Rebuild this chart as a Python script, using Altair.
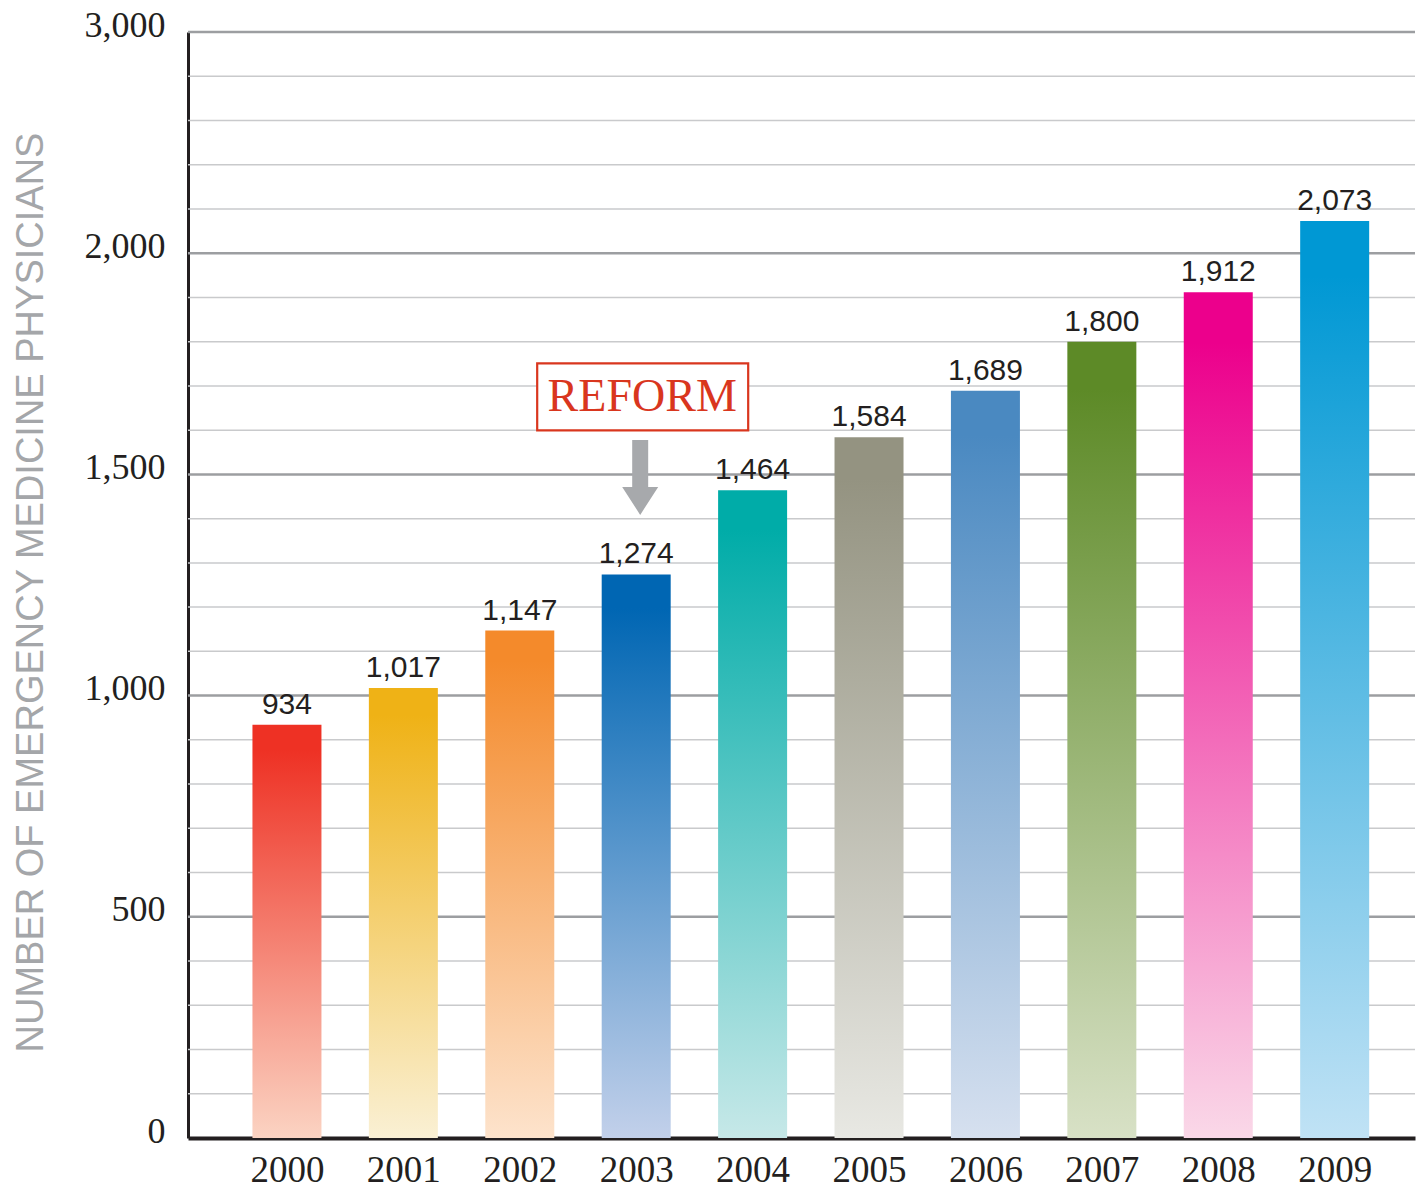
import altair as alt
import pandas as pd

years = [2000, 2001, 2002, 2003, 2004, 2005, 2006, 2007, 2008, 2009]
physicians = [934, 1017, 1147, 1274, 1464, 1584, 1689, 1800, 1912, 2073]
top_colors = ["#EE3124", "#EFB216", "#F48A2B", "#0066B3", "#00ACA8",
              "#949381", "#4A89C1", "#5D8A27", "#EC008C", "#0098D4"]
bottom_colors = ["#FBD3C2", "#FAF0D4", "#FDE3CC", "#C2D0EA", "#C6E8E8",
                 "#E8E8E3", "#D6E0EF", "#D8E1C6", "#FAD8E8", "#C0E2F5"]
major_ticks = [500, 1000, 1500, 2000, 2500]
minor_ticks = [v for v in range(100, 2500, 100) if v % 500 != 0]
y_tick_values = [0, 500, 1000, 1500, 2000, 2500]
reform_year = 2003
y_title = "NUMBER OF EMERGENCY MEDICINE PHYSICIANS"

W, H = 1227, 1106

df = pd.DataFrame({"year": years, "value": physicians,
                   "top": top_colors, "bottom": bottom_colors})
minor_df = pd.DataFrame({"value": minor_ticks})
major_df = pd.DataFrame({"value": major_ticks})
reform_df = df[df["year"] == reform_year][["year", "value"]]

xscale = alt.Scale(domain=[1999.15, 2009.69], nice=False, zero=False, padding=0)
yscale = alt.Scale(domain=[0, 2500], nice=False, zero=True, padding=0)

x_enc = alt.X("year:Q", scale=xscale, title=None,
              axis=alt.Axis(values=years, format="d", ticks=False, grid=False,
                            labelFont="Liberation Serif", labelFontSize=37,
                            labelColor="#231F20", labelPadding=14,
                            labelOverlap=False, labelFlush=False,
                            domainColor="#231F20", domainWidth=4))
y_enc = alt.Y("value:Q", scale=yscale, title=y_title,
              axis=alt.Axis(values=y_tick_values, ticks=False, grid=False,
                            labelExpr="datum.value == 2500 ? '3,000' : format(datum.value, ',')",
                            labelFont="Liberation Serif", labelFontSize=36,
                            labelColor="#231F20", labelPadding=23,
                            labelBaseline="middle", labelOffset=-7,
                            labelFlush=False, labelOverlap=False,
                            domainColor="#231F20", domainWidth=3,
                            titleFont="Liberation Sans", titleFontSize=38,
                            titleFontWeight="normal", titleColor="#A4A6A9",
                            titleAnchor="middle", titleBaseline="middle",
                            titleAngle=270, titleX=-157, titleY=560))

minor_rules = alt.Chart(minor_df).mark_rule(color="#C9CACC", strokeWidth=1.5).encode(
    y=y_enc, x=alt.value(0), x2=alt.value(W))
major_rules = alt.Chart(major_df).mark_rule(color="#9C9EA1", strokeWidth=2.5).encode(
    y=y_enc, x=alt.value(0), x2=alt.value(W))

layers = [minor_rules, major_rules]
for yr, top, bot in zip(years, top_colors, bottom_colors):
    grad = alt.Gradient(gradient="linear",
                        stops=[alt.GradientStop(color=top, offset=0),
                               alt.GradientStop(color=top, offset=0.06),
                               alt.GradientStop(color=bot, offset=1)],
                        x1=1, x2=1, y1=0, y2=1)
    layers.append(
        alt.Chart(df).transform_filter(alt.datum.year == yr)
        .mark_bar(color=grad, size=69)
        .encode(x=x_enc, y=y_enc)
    )

value_labels = alt.Chart(df).mark_text(
    baseline="alphabetic", align="center", dy=-11,
    font="Liberation Sans", fontSize=30, color="#231F20"
).encode(x=x_enc, y=y_enc, text=alt.Text("value:Q", format=","))

reform_box = alt.Chart(reform_df).mark_rect(
    fill="white", stroke="#D9361E", strokeWidth=2.2,
    xOffset=-99, x2Offset=112, yOffset=-211, y2Offset=-144
).encode(x=x_enc, x2="year:Q", y=y_enc, y2="value:Q")

reform_text = alt.Chart(reform_df).mark_text(
    text="REFORM", font="Liberation Serif", fontSize=46, color="#D9361E",
    align="center", baseline="middle", dx=6, dy=-177
).encode(x=x_enc, y=y_enc)

arrow_path = ("M-0.444,-2.083 L0.444,-2.083 L0.444,0.528 L1,0.528 "
              "L0,2.083 L-1,0.528 L-0.444,0.528 Z")
reform_arrow = alt.Chart(reform_df).mark_point(
    shape=arrow_path, size=1296, filled=True, fill="#A7A9AC",
    strokeWidth=0, opacity=1, xOffset=4, yOffset=-97
).encode(x=x_enc, y=y_enc)

layers += [value_labels, reform_box, reform_text, reform_arrow]

chart = alt.layer(*layers).properties(
    width=W, height=H,
    padding={"left": 180, "top": 24, "right": 3, "bottom": 50},
    autosize=alt.AutoSizeParams(type="none"),
    background="white",
).configure_view(stroke=None)

chart.save("out.html", embed_options={"renderer": "svg", "actions": False})
